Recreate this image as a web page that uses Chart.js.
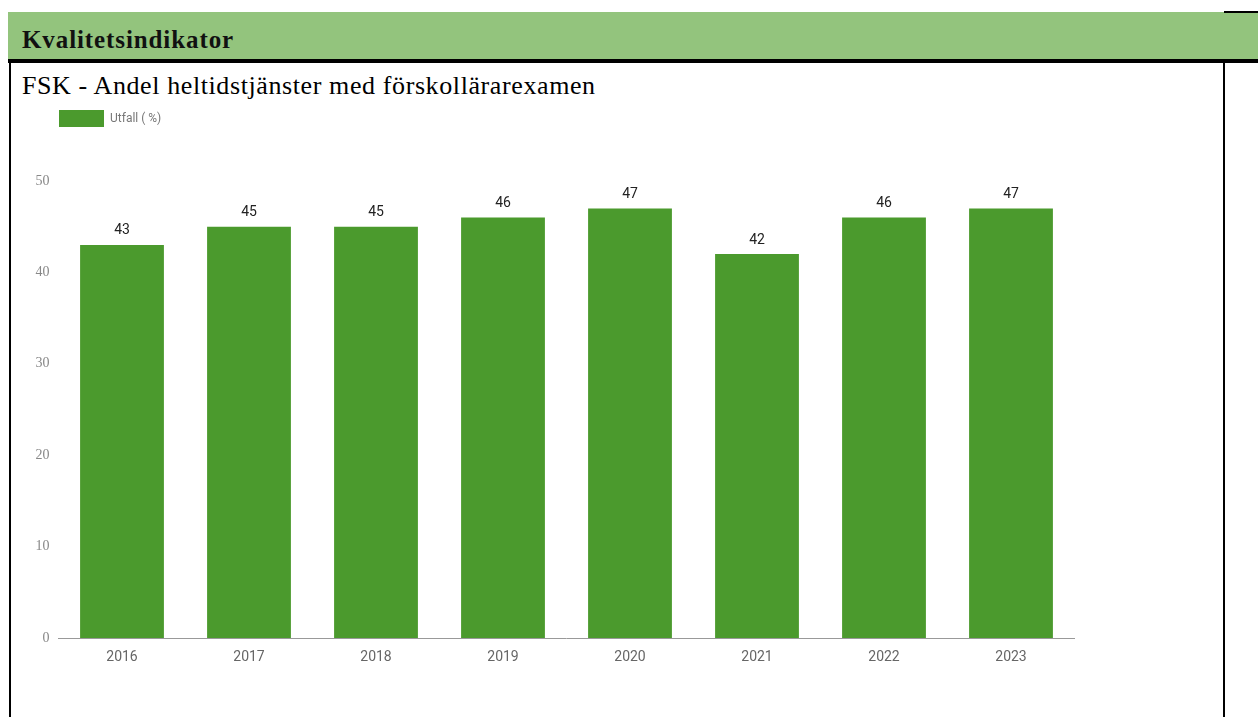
<!DOCTYPE html>
<html>
<head>
<meta charset="utf-8">
<script src="https://cdn.jsdelivr.net/npm/chart.js@4"></script>
<style>
  body { margin: 0; width: 1258px; height: 717px; background: #fff; position: relative; overflow: hidden; }
  .header { position: absolute; left: 8px; top: 12px; width: 1250px; height: 47px; background: #93c47d; }
  .header span { position: absolute; left: 14px; top: 14px; font: bold 25px "Liberation Serif", serif; letter-spacing: 0.9px; color: #111; }
  .topline { position: absolute; left: 8px; top: 59px; width: 1250px; height: 4px; background: #000; }
  .rightcell { position: absolute; left: 1224px; top: 11px; width: 34px; height: 2px; background: #000; }
  .lborder { position: absolute; left: 9px; top: 59px; width: 2px; height: 658px; background: #000; }
  .rborder { position: absolute; left: 1223px; top: 59px; width: 2px; height: 658px; background: #000; }
  .title { position: absolute; left: 22px; top: 71px; font: 26px "Liberation Serif", serif; letter-spacing: 0.6px; color: #000; white-space: nowrap; }
  #wrap { position: absolute; left: 12px; top: 90px; width: 1210px; height: 588px; }
</style>
</head>
<body>
<div class="header"><span>Kvalitetsindikator</span></div>
<div class="topline"></div>
<div class="rightcell"></div>
<div class="lborder"></div>
<div class="rborder"></div>
<div class="title">FSK - Andel heltidstjänster med förskollärarexamen</div>
<div id="wrap"><canvas id="myChart"></canvas></div>
<script>
let years = ['2016', '2017', '2018', '2019', '2020', '2021', '2022', '2023'];
let utfall = [43, 45, 45, 46, 47, 42, 46, 47];
let yTicks = [0, 10, 20, 30, 40, 50];
let seriesName = 'Utfall ( %)';
let barColor = '#4b9a2d';

// values above the bars
const valueLabels = {
  id: 'valueLabels',
  afterDatasetsDraw(chart) {
    let ctx = chart.ctx;
    let meta = chart.getDatasetMeta(0);
    ctx.save();
    ctx.font = '14px Roboto, sans-serif';
    ctx.fillStyle = '#222';
    ctx.textAlign = 'center';
    ctx.textBaseline = 'bottom';
    meta.data.forEach(function(bar, i) {
      ctx.fillText(utfall[i], bar.x, bar.y - 7);
    });
    ctx.restore();
  }
};

// push the legend to the right so it lines up with the plot
const legendShift = {
  id: 'legendShift',
  afterLayout(chart) {
    chart.legend.left += 37;
    chart.legend.right += 37;
  }
};

const ctx = document.getElementById('myChart').getContext('2d');
let myChart = new Chart(ctx, {
  type: 'bar',
  data: {
    labels: years,
    datasets: [{
      label: seriesName,
      data: utfall,
      backgroundColor: barColor,
      barPercentage: 0.66,
      categoryPercentage: 1
    }]
  },
  options: {
    responsive: true,
    maintainAspectRatio: false,
    animation: false,
    layout: { padding: { left: 0, right: 147.5, top: 10, bottom: 0 } },
    plugins: {
      legend: {
        align: 'start',
        labels: {
          boxWidth: 45,
          boxHeight: 17,
          padding: 10,
          color: '#777',
          font: { family: 'Roboto, sans-serif', size: 12 }
        }
      },
      tooltip: { enabled: false }
    },
    scales: {
      spacer: {
        type: 'category',
        position: 'top',
        display: true,
        grid: { display: false, drawTicks: false },
        border: { display: false },
        ticks: { display: false },
        afterFit(scale) { scale.height = 44; }
      },
      x: {
        grid: { display: false, drawTicks: false },
        border: { color: '#999', width: 1 },
        ticks: { color: '#666', padding: 11, font: { family: 'Roboto, sans-serif', size: 14 } },
        afterFit(scale) { scale.height = 40; }
      },
      y: {
        min: 0,
        max: 50,
        grid: { display: false, drawTicks: false },
        border: { display: false },
        afterBuildTicks(scale) { scale.ticks = yTicks.map(v => ({ value: v })); },
        ticks: { color: '#888', padding: 9, font: { family: 'Liberation Serif, serif', size: 14 } },
        afterFit(scale) { scale.width = 46.5; }
      }
    }
  },
  plugins: [valueLabels, legendShift]
});
</script>
</body>
</html>
